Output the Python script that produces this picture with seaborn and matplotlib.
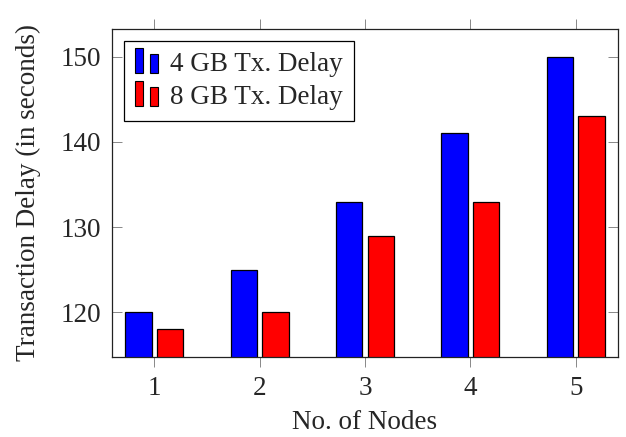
import pandas as pd
import matplotlib
matplotlib.use("Agg")
import matplotlib.pyplot as plt
import matplotlib.patches as mpatches
from matplotlib.legend_handler import HandlerBase
import seaborn as sns

# --- Data ---
nodes = ["1", "2", "3", "4", "5"]
delay_4gb = [120, 125, 133, 141, 150]
delay_8gb = [118, 120, 129, 133, 143]
series_names = ["4 GB Tx. Delay", "8 GB Tx. Delay"]
series_colors = ["#0000ff", "#ff0000"]

df = pd.DataFrame({
    "nodes": nodes * 2,
    "delay": delay_4gb + delay_8gb,
    "series": [series_names[0]] * len(nodes) + [series_names[1]] * len(nodes),
})


# pgfplots-like legend image: two little bars side by side
class TwoBarHandler(HandlerBase):
    def create_artists(self, legend, orig_handle, xdescent, ydescent,
                       width, height, fontsize, trans):
        color = orig_handle.get_facecolor()
        w = width * 0.3
        r1 = mpatches.Rectangle((-xdescent, -ydescent - 0.1 * height), w, height * 1.3,
                                facecolor=color, edgecolor="black", lw=0.8, transform=trans)
        r2 = mpatches.Rectangle((-xdescent + width * 0.55, -ydescent - 0.1 * height), w, height * 1.0,
                                facecolor=color, edgecolor="black", lw=0.8, transform=trans)
        return [r1, r2]


sns.set_style("white")
plt.rcParams["font.family"] = ["Liberation Serif", "DejaVu Serif"]
plt.rcParams["font.size"] = 19.5

fig, ax = plt.subplots(figsize=(6.26, 4.37), dpi=100)
sns.barplot(data=df, x="nodes", y="delay", hue="series", order=nodes,
            hue_order=series_names, palette=series_colors, width=0.6, gap=1 / 6,
            edgecolor="black", linewidth=0.9, saturation=1, ax=ax, legend=False)

ax.set_xlim(-0.4, 4.4)
ax.set_ylim(114.76, 153.25)
ax.set_yticks([120, 130, 140, 150])
ax.set_xlabel("No. of Nodes", labelpad=6)
ax.set_ylabel("Transaction Delay (in seconds)", labelpad=14)

for side in ax.spines.values():
    side.set_color("#222222")
    side.set_linewidth(0.9)
ax.tick_params(axis="x", direction="out", length=7, width=0.7, color="#888888",
               top=True, bottom=True, pad=7)
ax.tick_params(axis="y", direction="in", length=7, width=0.7, color="#888888",
               left=True, right=True, pad=8)

handles = [mpatches.Patch(facecolor=c, edgecolor="black") for c in series_colors]
leg = ax.legend(handles, series_names, loc="upper left", handler_map={mpatches.Patch: TwoBarHandler()},
                frameon=True, fancybox=False, edgecolor="black", framealpha=1,
                handlelength=1.0, handletextpad=0.3, borderpad=0.4, labelspacing=0.3,
                bbox_to_anchor=(0.0, 1.0), borderaxespad=0.45)
leg.get_frame().set_linewidth(0.9)

fig.subplots_adjust(left=0.179, right=0.987, top=0.934, bottom=0.183)
fig.savefig("out.png", dpi=100)
